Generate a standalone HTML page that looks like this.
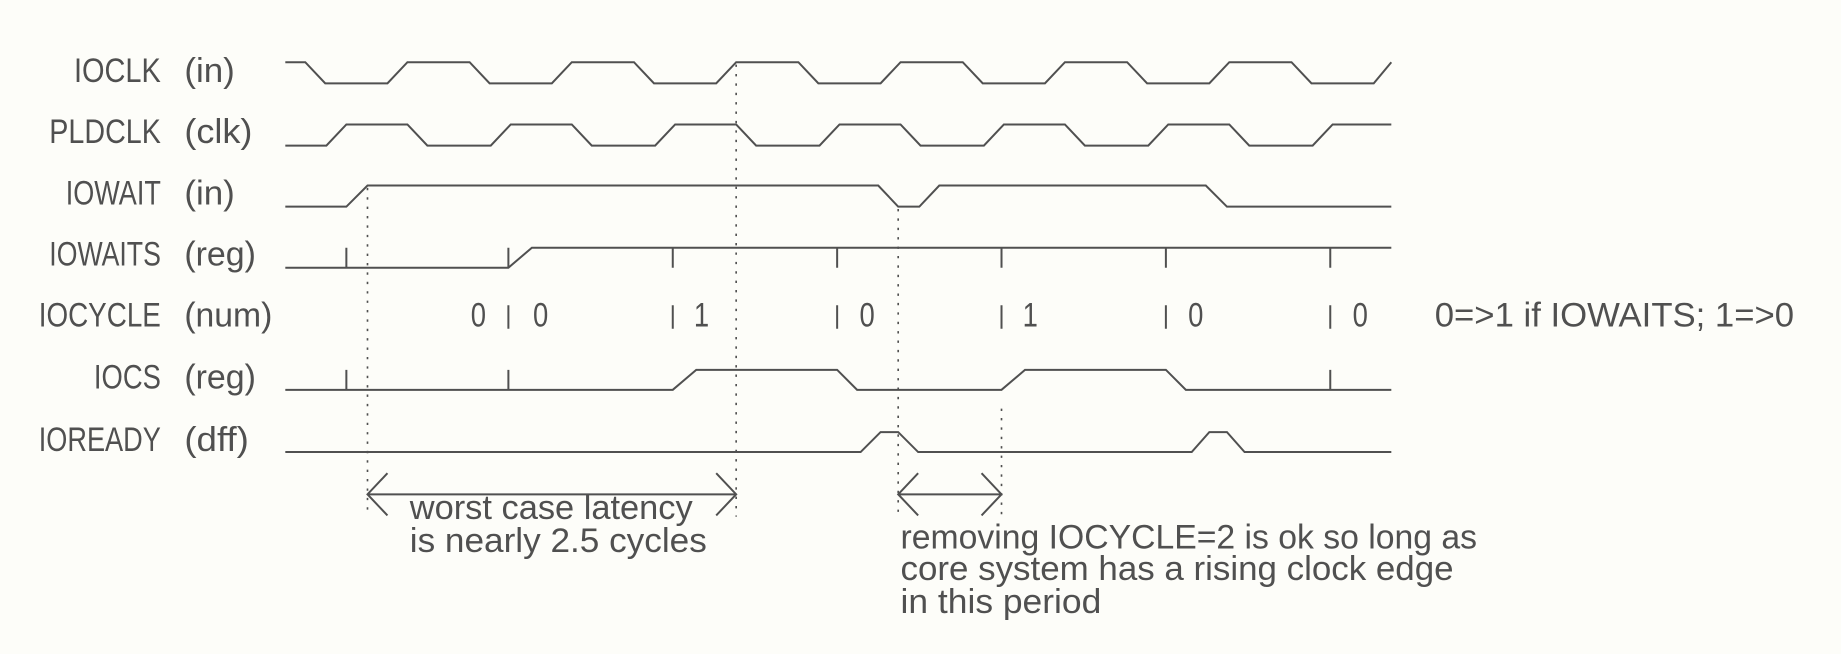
<!DOCTYPE html>
<html><head><meta charset="utf-8"><style>
html,body{margin:0;padding:0;background:#fdfdf9;}
svg{display:block;}
text{font-family:"Liberation Sans Narrow","Liberation Sans",sans-serif;font-size:29px;fill:#505050;}
</style></head><body>
<svg width="1841" height="654" viewBox="0 0 1568 557" preserveAspectRatio="none" xmlns="http://www.w3.org/2000/svg">
<rect width="1568" height="557" fill="#fdfdf9"/>
<g fill="none" stroke="#505050" stroke-width="1.7">
<polyline points="243,53 260,53 277,71 330,71 347,53 400,53 417,71 470,71 487,53 540,53 557,71 610,71 627,53 680,53 697,71 750,71 767,53 820,53 837,71 890,71 907,53 960,53 977,71 1030,71 1047,53 1100,53 1117,71 1170,71 1185,53"/>
<polyline points="243,124 278,124 295,106 347,106 364,124 418,124 435,106 487,106 504,124 558,124 575,106 627,106 644,124 698,124 715,106 767,106 784,124 838,124 855,106 907,106 924,124 978,124 995,106 1047,106 1064,124 1118,124 1135,106 1185,106"/>
<polyline points="243,176 295,176 313,158 748,158 765,176 783,176 800,158 1027,158 1045,176 1185,176"/>
<polyline points="243,228 433,228 453,211 1185,211"/>
<path d="M295,211V228M433,211V228M573,211V228M713,211V228M853,211V228M993,211V228M1133,211V228"/>
<path d="M433,260V280M573,260V280M713,260V280M853,260V280M993,260V280M1133,260V280"/>
<polyline points="243,332 573,332 593,315 713,315 730,332 853,332 873,315 993,315 1010,332 1185,332"/>
<path d="M295,315V332M433,315V332M1133,315V332"/>
<polyline points="243,385 733,385 750,368 765,368 782,385 1015,385 1030,368 1045,368 1060,385 1185,385"/>
<path d="M313,421H627M330,403L313,421L330,439M610,403L627,421L610,439"/>
<path d="M765,421H853M782,403L765,421L782,439M836,403L853,421L836,439"/>
</g>
<g stroke="#505050" stroke-width="1.4" stroke-dasharray="2,6" fill="none">
<path d="M313,160V440M627,55V440M765,178V440M853,348V440"/>
</g>
<g>
<text x="63" y="70" textLength="74" lengthAdjust="spacingAndGlyphs">IOCLK</text>
<text x="157" y="70" textLength="43" lengthAdjust="spacingAndGlyphs">(in)</text>
<text x="42" y="122" textLength="95" lengthAdjust="spacingAndGlyphs">PLDCLK</text>
<text x="157" y="122" textLength="58" lengthAdjust="spacingAndGlyphs">(clk)</text>
<text x="56" y="174" textLength="81" lengthAdjust="spacingAndGlyphs">IOWAIT</text>
<text x="157" y="174" textLength="43" lengthAdjust="spacingAndGlyphs">(in)</text>
<text x="42" y="226" textLength="95" lengthAdjust="spacingAndGlyphs">IOWAITS</text>
<text x="157" y="226" textLength="61" lengthAdjust="spacingAndGlyphs">(reg)</text>
<text x="33" y="278" textLength="104" lengthAdjust="spacingAndGlyphs">IOCYCLE</text>
<text x="157" y="278" textLength="75" lengthAdjust="spacingAndGlyphs">(num)</text>
<text x="80" y="331" textLength="57" lengthAdjust="spacingAndGlyphs">IOCS</text>
<text x="157" y="331" textLength="61" lengthAdjust="spacingAndGlyphs">(reg)</text>
<text x="33" y="384" textLength="104" lengthAdjust="spacingAndGlyphs">IOREADY</text>
<text x="157" y="384" textLength="55" lengthAdjust="spacingAndGlyphs">(dff)</text>
<text x="401" y="278" textLength="13" lengthAdjust="spacingAndGlyphs">0</text>
<text x="454" y="278" textLength="13" lengthAdjust="spacingAndGlyphs">0</text>
<text x="591" y="278" textLength="13" lengthAdjust="spacingAndGlyphs">1</text>
<text x="732" y="278" textLength="13" lengthAdjust="spacingAndGlyphs">0</text>
<text x="871" y="278" textLength="13" lengthAdjust="spacingAndGlyphs">1</text>
<text x="1012" y="278" textLength="13" lengthAdjust="spacingAndGlyphs">0</text>
<text x="1152" y="278" textLength="13" lengthAdjust="spacingAndGlyphs">0</text>
<text x="1222" y="278" textLength="306" lengthAdjust="spacingAndGlyphs">0=&gt;1 if IOWAITS; 1=&gt;0</text>
<text x="349" y="442" textLength="241" lengthAdjust="spacingAndGlyphs">worst case latency</text>
<text x="349" y="470" textLength="253" lengthAdjust="spacingAndGlyphs">is nearly 2.5 cycles</text>
<text x="767" y="467" textLength="491" lengthAdjust="spacingAndGlyphs">removing IOCYCLE=2 is ok so long as</text>
<text x="767" y="494" textLength="471" lengthAdjust="spacingAndGlyphs">core system has a rising clock edge</text>
<text x="767" y="522" textLength="171" lengthAdjust="spacingAndGlyphs">in this period</text>
</g>
</svg>
</body></html>
